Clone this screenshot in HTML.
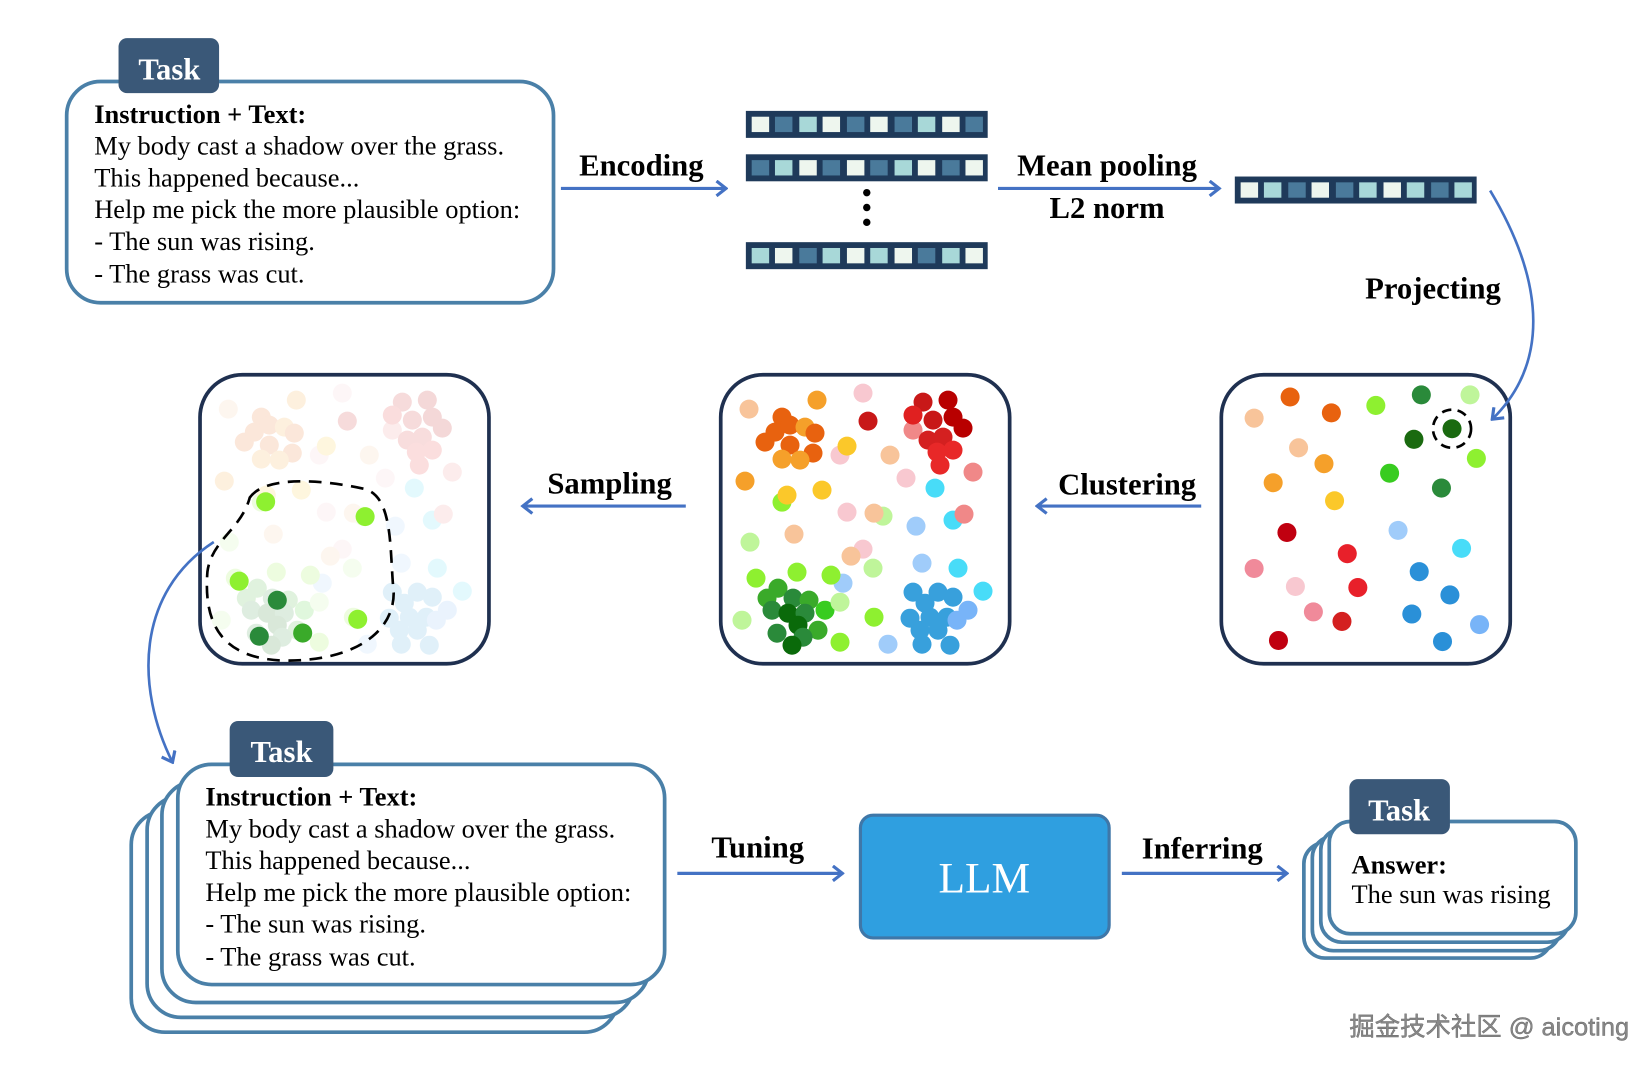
<!DOCTYPE html>
<html><head><meta charset="utf-8"><style>
html,body{margin:0;padding:0;background:#fff;}
svg{display:block}
text{font-family:"Liberation Serif",serif;}
</style></head><body>
<svg width="1651" height="1065" viewBox="0 0 1560 1006" preserveAspectRatio="none" xmlns="http://www.w3.org/2000/svg">
<defs>
<marker id="ah" viewBox="0 0 12 16" refX="10" refY="8" markerWidth="12" markerHeight="16" markerUnits="userSpaceOnUse" orient="auto">
<path d="M1 1 L10 8 L1 15" fill="none" stroke="#4472c4" stroke-width="3"/>
</marker>
</defs>
<rect width="1560" height="1006" fill="#fff"/>

<!-- Top task box -->
<rect x="63" y="77" width="460" height="209" rx="32" fill="#fff" stroke="#4a80a8" stroke-width="3.5"/>
<rect x="112" y="36" width="95" height="52" rx="8" fill="#3a5878"/>
<text x="160" y="75" font-size="29" fill="#fff" text-anchor="middle" font-weight="bold">Task</text>
<g font-size="25" fill="#000">
<text x="89" y="116" font-weight="bold">Instruction + Text:</text>
<text x="89" y="146">My body cast a shadow over the grass.</text>
<text x="89" y="176">This happened because...</text>
<text x="89" y="206">Help me pick the more plausible option:</text>
<text x="89" y="236">- The sun was rising.</text>
<text x="89" y="267">- The grass was cut.</text>
</g>

<!-- Encoding -->
<text x="606" y="166" font-size="29" font-weight="bold" text-anchor="middle">Encoding</text>
<line x1="530" y1="178" x2="686" y2="178" stroke="#4472c4" stroke-width="3" marker-end="url(#ah)"/>

<!-- bars -->
<g stroke="#1f3a5a" stroke-width="2.5">
<g transform="translate(706,106)">
<rect width="226" height="23" fill="#1f3a5a"/>
<rect x="3" y="3" width="19" height="17" fill="#eef6ee"/><rect x="25" y="3" width="19" height="17" fill="#4a7a9b"/><rect x="48" y="3" width="19" height="17" fill="#a8d8d8"/><rect x="70" y="3" width="19" height="17" fill="#eef6ee"/><rect x="93" y="3" width="19" height="17" fill="#4a7a9b"/><rect x="115" y="3" width="19" height="17" fill="#eef6ee"/><rect x="138" y="3" width="19" height="17" fill="#4a7a9b"/><rect x="160" y="3" width="19" height="17" fill="#a8d8d8"/><rect x="183" y="3" width="19" height="17" fill="#eef6ee"/><rect x="205" y="3" width="19" height="17" fill="#4a7a9b"/>
</g>
<g transform="translate(706,147)">
<rect width="226" height="23" fill="#1f3a5a"/>
<rect x="3" y="3" width="19" height="17" fill="#4a7a9b"/><rect x="25" y="3" width="19" height="17" fill="#a8d8d8"/><rect x="48" y="3" width="19" height="17" fill="#eef6ee"/><rect x="70" y="3" width="19" height="17" fill="#4a7a9b"/><rect x="93" y="3" width="19" height="17" fill="#eef6ee"/><rect x="115" y="3" width="19" height="17" fill="#4a7a9b"/><rect x="138" y="3" width="19" height="17" fill="#a8d8d8"/><rect x="160" y="3" width="19" height="17" fill="#eef6ee"/><rect x="183" y="3" width="19" height="17" fill="#4a7a9b"/><rect x="205" y="3" width="19" height="17" fill="#eef6ee"/>
</g>
<g transform="translate(706,230)">
<rect width="226" height="23" fill="#1f3a5a"/>
<rect x="3" y="3" width="19" height="17" fill="#a8d8d8"/><rect x="25" y="3" width="19" height="17" fill="#eef6ee"/><rect x="48" y="3" width="19" height="17" fill="#4a7a9b"/><rect x="70" y="3" width="19" height="17" fill="#a8d8d8"/><rect x="93" y="3" width="19" height="17" fill="#eef6ee"/><rect x="115" y="3" width="19" height="17" fill="#a8d8d8"/><rect x="138" y="3" width="19" height="17" fill="#eef6ee"/><rect x="160" y="3" width="19" height="17" fill="#4a7a9b"/><rect x="183" y="3" width="19" height="17" fill="#a8d8d8"/><rect x="205" y="3" width="19" height="17" fill="#eef6ee"/>
</g>
<g transform="translate(1168,168)">
<rect width="226" height="23" fill="#1f3a5a"/>
<rect x="3" y="3" width="19" height="17" fill="#eef6ee"/><rect x="25" y="3" width="19" height="17" fill="#a8d8d8"/><rect x="48" y="3" width="19" height="17" fill="#4a7a9b"/><rect x="70" y="3" width="19" height="17" fill="#eef6ee"/><rect x="93" y="3" width="19" height="17" fill="#4a7a9b"/><rect x="115" y="3" width="19" height="17" fill="#a8d8d8"/><rect x="138" y="3" width="19" height="17" fill="#eef6ee"/><rect x="160" y="3" width="19" height="17" fill="#a8d8d8"/><rect x="183" y="3" width="19" height="17" fill="#4a7a9b"/><rect x="205" y="3" width="19" height="17" fill="#a8d8d8"/>
</g>
</g>
<circle cx="819" cy="182" r="3.5" fill="#000"/><circle cx="819" cy="196" r="3.5" fill="#000"/><circle cx="819" cy="210" r="3.5" fill="#000"/>

<text x="1046" y="166" font-size="29" font-weight="bold" text-anchor="middle">Mean pooling</text>
<text x="1046" y="206" font-size="29" font-weight="bold" text-anchor="middle">L2 norm</text>
<line x1="943" y1="178" x2="1152" y2="178" stroke="#4472c4" stroke-width="3" marker-end="url(#ah)"/>

<text x="1354" y="282" font-size="29" font-weight="bold" text-anchor="middle">Projecting</text>

<!-- Panels -->
<rect x="189" y="354" width="273" height="273" rx="40" fill="#fff" stroke="#1f3050" stroke-width="3.5"/>
<rect x="681" y="354" width="273" height="273" rx="40" fill="#fff" stroke="#1f3050" stroke-width="3.5"/>
<rect x="1154" y="354" width="273" height="273" rx="40" fill="#fff" stroke="#1f3050" stroke-width="3.5"/>

<path d="M1408 180 C1462 270 1462 345 1410 396" fill="none" stroke="#4472c4" stroke-width="2.5" marker-end="url(#ah)"/>

<!-- middle dots (original coords) -->
<g id="mid" transform="scale(0.9449)">
<g>
<circle cx="749" cy="409" r="9.5" fill="#f8c49a"/><circle cx="817" cy="400" r="9.5" fill="#f5a02a"/><circle cx="863" cy="393" r="9.5" fill="#f8c8d0"/><circle cx="868" cy="421" r="9.5" fill="#c81818"/>
<circle cx="782" cy="417" r="9.5" fill="#e8620f"/><circle cx="765" cy="442" r="9.5" fill="#e8620f"/><circle cx="775" cy="432" r="9.5" fill="#e8620f"/><circle cx="790" cy="425" r="9.5" fill="#e8620f"/><circle cx="790" cy="445" r="9.5" fill="#e8620f"/><circle cx="805" cy="427" r="9.5" fill="#f5a02a"/><circle cx="813" cy="453" r="9.5" fill="#e8620f"/><circle cx="815" cy="433" r="9.5" fill="#e8620f"/><circle cx="782" cy="459" r="9.5" fill="#f5a02a"/><circle cx="800" cy="460" r="9.5" fill="#f5a02a"/>
<circle cx="840" cy="455" r="9.5" fill="#f8c8d0"/><circle cx="847" cy="446" r="9.5" fill="#fbc82a"/><circle cx="890" cy="455" r="9.5" fill="#f8c49a"/>
<circle cx="923" cy="402" r="9.5" fill="#c81818"/><circle cx="948" cy="400" r="9.5" fill="#b80000"/><circle cx="913" cy="430" r="9.5" fill="#f08888"/><circle cx="913" cy="415" r="9.5" fill="#e02020"/><circle cx="933" cy="420" r="9.5" fill="#c81818"/><circle cx="953" cy="417" r="9.5" fill="#b80000"/><circle cx="963" cy="428" r="9.5" fill="#b80000"/><circle cx="928" cy="440" r="9.5" fill="#d42020"/><circle cx="943" cy="437" r="9.5" fill="#d42020"/><circle cx="953" cy="450" r="9.5" fill="#e82828"/><circle cx="937" cy="452" r="9.5" fill="#e82828"/><circle cx="940" cy="465" r="9.5" fill="#e82828"/><circle cx="973" cy="472" r="9.5" fill="#f08888"/>
<circle cx="906" cy="478" r="9.5" fill="#f8c8d0"/><circle cx="935" cy="488" r="9.5" fill="#48dcf8"/><circle cx="745" cy="481" r="9.5" fill="#f5a02a"/><circle cx="822" cy="490" r="9.5" fill="#fbc82a"/><circle cx="782" cy="502" r="9.5" fill="#8ef030"/><circle cx="787" cy="495" r="9.5" fill="#fbc82a"/>
<circle cx="847" cy="512" r="9.5" fill="#f8c8d0"/><circle cx="883" cy="516" r="9.5" fill="#bff59a"/><circle cx="874" cy="513" r="9.5" fill="#f8c49a"/>
<circle cx="916" cy="526" r="9.5" fill="#a0ccfa"/><circle cx="953" cy="520" r="9.5" fill="#48dcf8"/><circle cx="964" cy="514" r="9.5" fill="#f08888"/>
<circle cx="750" cy="542" r="9.5" fill="#bff59a"/><circle cx="794" cy="534" r="9.5" fill="#f8c49a"/><circle cx="863" cy="549" r="9.5" fill="#f8c8d0"/><circle cx="851" cy="556" r="9.5" fill="#f8c49a"/><circle cx="873" cy="568" r="9.5" fill="#bff59a"/>
<circle cx="922" cy="563" r="9.5" fill="#a0ccfa"/><circle cx="958" cy="568" r="9.5" fill="#48dcf8"/><circle cx="983" cy="591" r="9.5" fill="#48dcf8"/>
<circle cx="756" cy="578" r="9.5" fill="#8ef030"/><circle cx="797" cy="572" r="9.5" fill="#8ef030"/><circle cx="843" cy="583" r="9.5" fill="#a0ccfa"/><circle cx="831" cy="575" r="9.5" fill="#8ef030"/>
<circle cx="778" cy="588" r="9.5" fill="#3aaa2a"/><circle cx="767" cy="598" r="9.5" fill="#3aaa2a"/><circle cx="793" cy="598" r="9.5" fill="#2a8a3a"/><circle cx="809" cy="600" r="9.5" fill="#3aaa2a"/><circle cx="772" cy="610" r="9.5" fill="#2a8a3a"/><circle cx="788" cy="613" r="9.5" fill="#0a6a0a"/><circle cx="805" cy="613" r="9.5" fill="#2a8a3a"/><circle cx="825" cy="610" r="9.5" fill="#38cc20"/><circle cx="798" cy="625" r="9.5" fill="#0a6a0a"/><circle cx="777" cy="633" r="9.5" fill="#2a8a3a"/><circle cx="818" cy="630" r="9.5" fill="#3aaa2a"/><circle cx="803" cy="637" r="9.5" fill="#2a8a3a"/><circle cx="792" cy="645" r="9.5" fill="#0a6a0a"/>
<circle cx="840" cy="602" r="9.5" fill="#bff59a"/><circle cx="742" cy="620" r="9.5" fill="#bff59a"/><circle cx="874" cy="617" r="9.5" fill="#8ef030"/><circle cx="840" cy="642" r="9.5" fill="#8ef030"/><circle cx="888" cy="644" r="9.5" fill="#a0ccfa"/>
<circle cx="913" cy="592" r="9.5" fill="#38a0dc"/><circle cx="938" cy="592" r="9.5" fill="#38a0dc"/><circle cx="953" cy="597" r="9.5" fill="#38a0dc"/><circle cx="925" cy="603" r="9.5" fill="#38a0dc"/><circle cx="910" cy="618" r="9.5" fill="#38a0dc"/><circle cx="930" cy="617" r="9.5" fill="#38a0dc"/><circle cx="947" cy="617" r="9.5" fill="#38a0dc"/><circle cx="968" cy="610" r="9.5" fill="#78b4f8"/><circle cx="957" cy="620" r="9.5" fill="#78b4f8"/><circle cx="920" cy="630" r="9.5" fill="#38a0dc"/><circle cx="938" cy="630" r="9.5" fill="#38a0dc"/><circle cx="922" cy="644" r="9.5" fill="#38a0dc"/><circle cx="950" cy="645" r="9.5" fill="#38a0dc"/>
</g>
</g>

<!-- left panel faded copy -->
<g opacity="0.15"><use href="#mid" transform="translate(-492,0)"/></g>
<path d="M236 470 C250 450 300 452 345 462 C372 470 368 520 372 560 C372 600 330 625 268 624 C210 622 192 590 196 540 C200 510 228 500 236 470 Z" fill="none" stroke="#000" stroke-width="2.5" stroke-dasharray="12 8"/>
<circle cx="251" cy="474" r="9" fill="#8ef030"/><circle cx="345" cy="488" r="9" fill="#8ef030"/><circle cx="226" cy="549" r="9" fill="#8ef030"/><circle cx="338" cy="585" r="9" fill="#8ef030"/>
<circle cx="262" cy="567" r="9" fill="#2a8a3a"/><circle cx="245" cy="601" r="9" fill="#2a8a3a"/><circle cx="286" cy="598" r="9" fill="#3aaa2a"/>

<!-- right panel dots -->
<g>
<circle cx="1219" cy="375" r="9" fill="#e8620f"/><circle cx="1258" cy="390" r="9" fill="#e8620f"/><circle cx="1185" cy="395" r="9" fill="#f8c49a"/><circle cx="1227" cy="423" r="9" fill="#f8c49a"/>
<circle cx="1251" cy="438" r="9" fill="#f5a02a"/><circle cx="1203" cy="456" r="9" fill="#f5a02a"/><circle cx="1261" cy="473" r="9" fill="#fbc82a"/>
<circle cx="1300" cy="383" r="9" fill="#8ef030"/><circle cx="1389" cy="373" r="9" fill="#bff59a"/><circle cx="1395" cy="433" r="9" fill="#8ef030"/><circle cx="1313" cy="447" r="9" fill="#38cc20"/>
<circle cx="1343" cy="373" r="9" fill="#2a8a3a"/><circle cx="1362" cy="461" r="9" fill="#2a8a3a"/>
<circle cx="1336" cy="415" r="9" fill="#1a6a10"/><circle cx="1372" cy="405" r="9" fill="#1a6a10"/>
<circle cx="1372" cy="405" r="18" fill="none" stroke="#000" stroke-width="2.5" stroke-dasharray="9 6"/>
<circle cx="1216" cy="503" r="9" fill="#c00010"/><circle cx="1208" cy="605" r="9" fill="#c00010"/>
<circle cx="1273" cy="523" r="9" fill="#e8202a"/><circle cx="1283" cy="555" r="9" fill="#e8202a"/><circle cx="1268" cy="587" r="9" fill="#d42020"/>
<circle cx="1185" cy="537" r="9" fill="#f08a9a"/><circle cx="1241" cy="578" r="9" fill="#f08a9a"/><circle cx="1224" cy="554" r="9" fill="#f8c8d0"/>
<circle cx="1321" cy="501" r="9" fill="#a0ccfa"/><circle cx="1398" cy="590" r="9" fill="#78b4f8"/><circle cx="1381" cy="518" r="9" fill="#48dcf8"/>
<circle cx="1341" cy="540" r="9" fill="#2a90d8"/><circle cx="1370" cy="562" r="9" fill="#2a90d8"/><circle cx="1334" cy="580" r="9" fill="#2a90d8"/><circle cx="1363" cy="606" r="9" fill="#2a90d8"/>
</g>

<!-- Clustering / Sampling -->
<text x="1065" y="467" font-size="29" font-weight="bold" text-anchor="middle">Clustering</text>
<line x1="1135" y1="478" x2="980" y2="478" stroke="#4472c4" stroke-width="3" marker-end="url(#ah)"/>
<text x="576" y="466" font-size="29" font-weight="bold" text-anchor="middle">Sampling</text>
<line x1="648" y1="478" x2="494" y2="478" stroke="#4472c4" stroke-width="3" marker-end="url(#ah)"/>

<path d="M202 512 C128 560 128 650 163 720" fill="none" stroke="#4472c4" stroke-width="2.5" marker-end="url(#ah)"/>

<!-- bottom stacked box -->
<g fill="#fff" stroke="#4a80a8" stroke-width="3.5">
<rect x="124" y="766" width="460" height="209" rx="32"/>
<rect x="139" y="752" width="460" height="209" rx="32"/>
<rect x="153" y="738" width="460" height="209" rx="32"/>
<rect x="168" y="722" width="460" height="208" rx="32"/>
</g>
<rect x="217" y="681" width="98" height="53" rx="8" fill="#3a5878"/>
<text x="266" y="720" font-size="29" fill="#fff" text-anchor="middle" font-weight="bold">Task</text>
<g font-size="25" fill="#000">
<text x="194" y="761" font-weight="bold">Instruction + Text:</text>
<text x="194" y="791">My body cast a shadow over the grass.</text>
<text x="194" y="821">This happened because...</text>
<text x="194" y="851">Help me pick the more plausible option:</text>
<text x="194" y="881">- The sun was rising.</text>
<text x="194" y="912">- The grass was cut.</text>
</g>

<text x="716" y="810" font-size="29" font-weight="bold" text-anchor="middle">Tuning</text>
<line x1="640" y1="825" x2="796" y2="825" stroke="#4472c4" stroke-width="3" marker-end="url(#ah)"/>
<rect x="813" y="770" width="235" height="116" rx="12" fill="#2f9fe0" stroke="#3f77a8" stroke-width="3"/>
<text x="930" y="843" font-size="41" fill="#fff" text-anchor="middle">LLM</text>
<text x="1136" y="811" font-size="29" font-weight="bold" text-anchor="middle">Inferring</text>
<line x1="1060" y1="825" x2="1216" y2="825" stroke="#4472c4" stroke-width="3" marker-end="url(#ah)"/>

<!-- answer box -->
<g fill="#fff" stroke="#4a80a8" stroke-width="3.5">
<rect x="1232" y="796" width="234" height="109" rx="20"/>
<rect x="1240" y="790" width="234" height="108" rx="20"/>
<rect x="1248" y="783" width="234" height="107" rx="20"/>
<rect x="1256" y="776" width="233" height="106" rx="20"/>
</g>
<rect x="1275" y="736" width="95" height="52" rx="8" fill="#3a5878"/>
<text x="1322" y="775" font-size="29" fill="#fff" text-anchor="middle" font-weight="bold">Task</text>
<text x="1277" y="825" font-size="25" font-weight="bold">Answer:</text>
<text x="1277" y="853" font-size="25">The sun was rising</text>

<text x="1275" y="978" font-size="24" fill="#888" stroke="#666" stroke-width="0.4" style="font-family:'Liberation Sans','Noto Sans CJK SC',sans-serif">掘金技术社区 @ aicoting</text>
</svg>
</body></html>
